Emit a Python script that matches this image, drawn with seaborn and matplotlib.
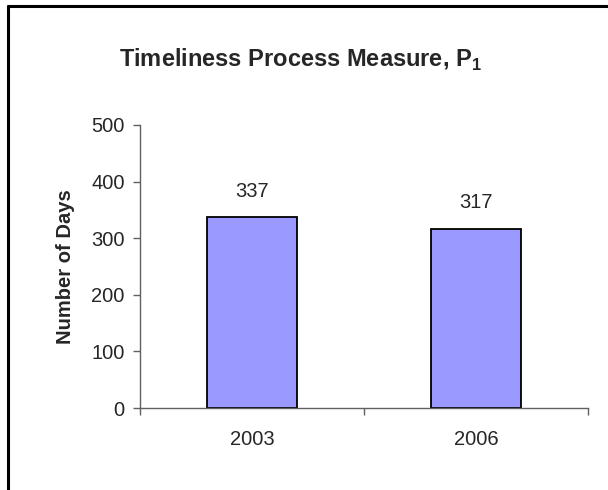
import matplotlib
matplotlib.use("Agg")
import matplotlib.pyplot as plt
import seaborn as sns
import pandas as pd
from matplotlib.lines import Line2D

years = ["2003", "2006"]
days = [337, 317]
yticks = [0, 100, 200, 300, 400, 500]

sns.set_style("white")
plt.rcParams['font.family'] = ['Liberation Sans', 'DejaVu Sans']
plt.rcParams['mathtext.fontset'] = 'custom'
plt.rcParams['mathtext.rm'] = 'Liberation Sans'
plt.rcParams['mathtext.bf'] = 'Liberation Sans:bold'

df = pd.DataFrame({"Year": years, "Days": days})

fig = plt.figure(figsize=(6.08, 4.90), dpi=100)
ax = fig.add_axes([140/608, 1-408/490, (588-140)/608, (408-125)/490])

sns.barplot(data=df, x="Year", y="Days", order=years, color="#9999FF",
            width=0.4, edgecolor="black", linewidth=1.3, saturation=1, ax=ax)

fs = 14.5
ax.set_xlim(-0.5, 1.5)
ax.set_ylim(0, 500)
ax.set_yticks(yticks)
ax.set_yticklabels([str(t) for t in yticks], fontsize=fs)
ax.set_xticks([0, 1])
ax.set_xticklabels(years, fontsize=fs)
ax.set_xticks([-0.5, 0.5, 1.5], minor=True)
ax.tick_params(axis='x', which='major', length=0, pad=16)
ax.tick_params(axis='x', which='minor', length=5, width=1, color='#606060', direction='out', bottom=True)
ax.tick_params(axis='y', which='major', length=5, width=1, color='#606060', direction='out', left=True, pad=6)

for s in ['top', 'right']:
    ax.spines[s].set_visible(False)
for s in ['left', 'bottom']:
    ax.spines[s].set_color('#606060')
    ax.spines[s].set_linewidth(1.0)

ax.set_xlabel("")
ax.set_ylabel("Number of Days", fontsize=fs, fontweight='bold', labelpad=12)

for i, v in enumerate(days):
    ax.annotate(str(v), (i, v), xytext=(0, 12), textcoords='offset points',
                ha='center', va='bottom', fontsize=fs)

fig.text(300/608, 1-60/490, r'Timeliness Process Measure, $\mathbf{P}_\mathbf{1}$',
         ha='center', va='center', fontsize=17, fontweight='bold')

# figure border (only left and top visible, as in the reference)
fig.add_artist(Line2D([8/608, 8/608], [0, 1-6/490], transform=fig.transFigure, color='black', linewidth=2.2))
fig.add_artist(Line2D([8/608, 1], [1-6/490, 1-6/490], transform=fig.transFigure, color='black', linewidth=2.2))

fig.savefig("out.png", dpi=100)
